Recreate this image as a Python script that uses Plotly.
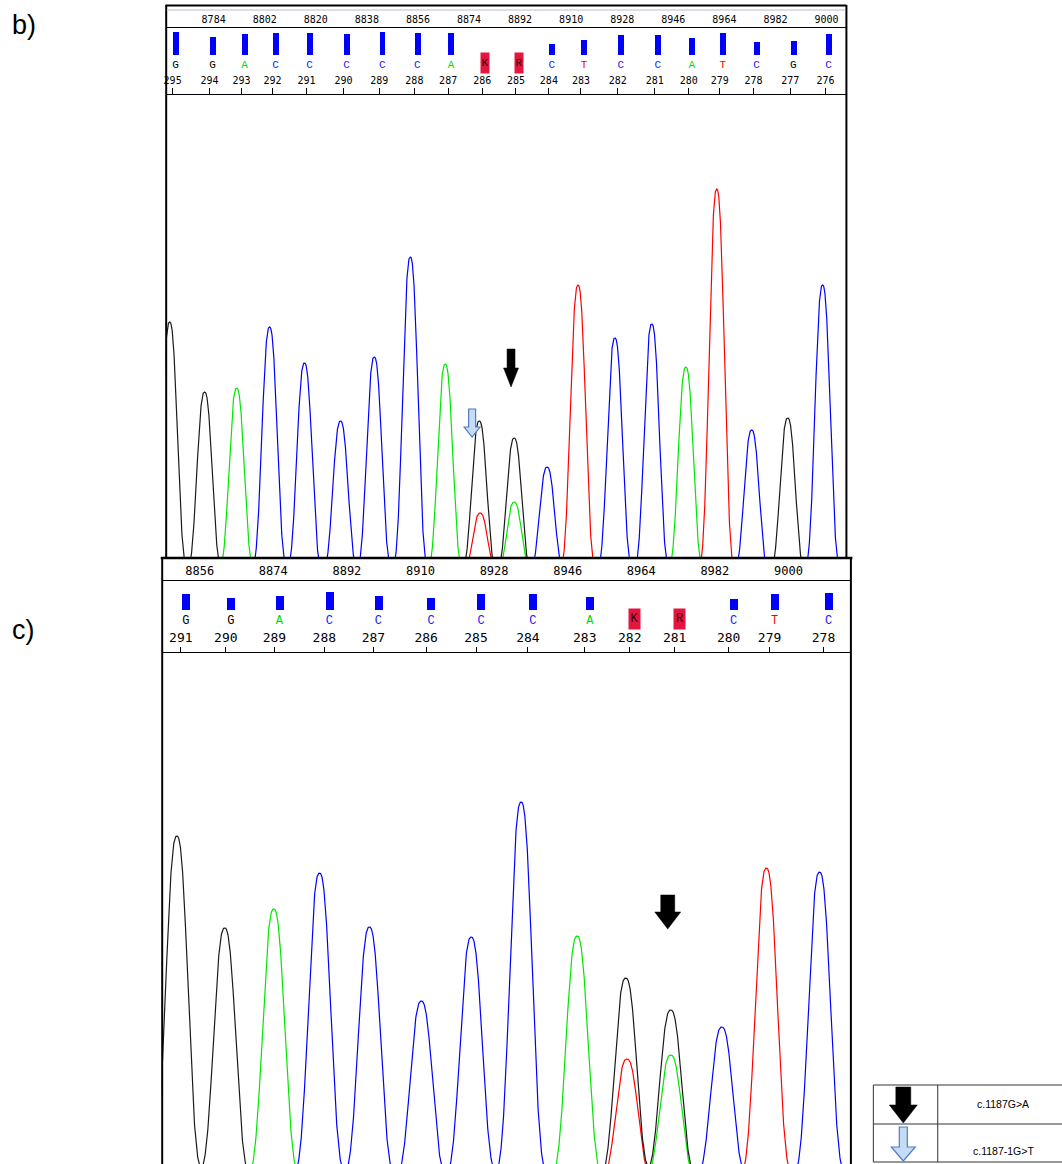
import numpy as np
import plotly.graph_objects as go

W, H = 1062, 1164

# ---------------- data: panel b ----------------
b_scale = [8784, 8802, 8820, 8838, 8856, 8874, 8892, 8910, 8928, 8946, 8964, 8982, 9000]
b_bases = list("GGACCCCCAKRCTCCATCGC")
b_nums = list(range(295, 275, -1))
b_call_pos = [8770.6, 8783.6, 8794.9, 8805.8, 8817.8, 8830.8, 8843.4, 8855.8, 8867.7, 8879.7,
              8891.6, 8903.2, 8914.5, 8927.5, 8940.5, 8952.5, 8963.4, 8975.3, 8988.3, 9000.7]
b_quality = [23, 18, 21, 22, 22, 21, 23, 22, 22, None, None, 11, 15, 20, 20, 17, 22, 13, 14, 21]
b_peak_pos = [8768.5, 8780.8, 8792.1, 8803.7, 8816.0, 8828.7, 8840.6, 8853.3, 8865.6, 8877.6, 8877.9,
              8889.9, 8889.9, 8901.5, 8912.4, 8925.4, 8938.4, 8950.4, 8961.3, 8973.6, 8986.3, 8998.6]
b_peak_base = list("GGACCCCCAGTGACTCCATCGC")
b_peak_h = [253, 183, 187, 248, 212, 154, 218, 318, 211, 154, 62, 137, 73, 108, 290, 237, 251, 208,
            386, 145, 157, 290]

# ---------------- data: panel c ----------------
c_scale = [8856, 8874, 8892, 8910, 8928, 8946, 8964, 8982, 9000]
c_bases = list("GGACCCCCAKRCTC")
c_nums = list(range(291, 277, -1))
c_call_pos = [8852.6, 8863.6, 8875.5, 8887.7, 8899.7, 8912.6, 8924.8, 8937.5, 8951.4, 8962.4,
              8973.4, 8986.6, 8996.6, 9009.8]
c_quality = [16, 12, 14, 18, 14, 12, 16, 16, 13, None, None, 11, 16, 17]
c_peak_pos = [8850.4, 8862.1, 8874.1, 8885.3, 8897.5, 8910.2, 8922.4, 8934.6, 8948.3, 8960.2, 8960.5,
              8971.2, 8971.2, 8983.7, 8994.6, 9007.6]
c_peak_base = list("GGACCCCCAGTGACTC")
c_peak_h = [344, 252, 271, 307, 253, 179, 243, 378, 244, 202, 121, 170, 125, 153, 312, 308]

legend_labels = ["c.1187G>A", "c.1187-1G>T"]

# ---------------- style ----------------
TRACE_COL = {"G": "#1a1a1a", "A": "#00e600", "C": "#0000ff", "T": "#ff0000"}
LET_COL = {"G": "#000000", "A": "#00dd00", "C": "#1a1aff", "T": "#ff0000"}
PEAK_S = 3.4
PEAK_P = 2.5

def px(x):
    return x / W

def py(y):
    return 1 - y / H

b_xr = [8767.1, 9007.0]
c_xr = [8846.7, 9015.4]

fig = go.Figure()

def add_traces(pos, bases, hts, xr, xa, ya):
    xs = np.arange(xr[0] - 6, xr[1] + 6, 0.05)
    for ch in ["C", "A", "T", "G"]:
        ys = np.zeros_like(xs)
        for p, b, h in zip(pos, bases, hts):
            if b == ch:
                ys += h * np.exp(-(np.abs(xs - p) / PEAK_S) ** PEAK_P)
        fig.add_trace(go.Scatter(x=xs, y=ys, mode="lines", xaxis=xa, yaxis=ya,
                                 line=dict(color=TRACE_COL[ch], width=1.2),
                                 hoverinfo="skip", showlegend=False))

def add_header(pos, bases, qual, xa, ya, bar_w, let_y, let_size, box_w, box_y):
    fig.add_trace(go.Bar(x=pos, y=qual, xaxis=xa, yaxis=ya, width=bar_w,
                         marker=dict(color="#0000ff", line=dict(width=0)),
                         hoverinfo="skip", showlegend=False))
    txt = [b if b in "ACGT" else "" for b in bases]
    fig.add_trace(go.Scatter(x=pos, y=[let_y] * len(pos), mode="text", text=txt,
                             xaxis=xa, yaxis=ya,
                             textfont=dict(family="Liberation Mono", size=let_size,
                                           color=[LET_COL.get(b, "#000") for b in bases]),
                             hoverinfo="skip", showlegend=False))
    for p, b in zip(pos, bases):
        if b not in "ACGT":
            fig.add_annotation(x=p, y=box_y, xref=xa, yref=ya, text=b, showarrow=False,
                               font=dict(family="Liberation Mono", size=let_size, color="#3a0008"),
                               bgcolor="#e3163f", width=box_w, height=20, borderpad=0)

add_traces(b_peak_pos, b_peak_base, b_peak_h, b_xr, "x", "y")
add_traces(c_peak_pos, c_peak_base, c_peak_h, c_xr, "x2", "y2")
add_header(b_call_pos, b_bases, b_quality, "x3", "y3", 2.1, -10, 11, 8, -7.5)
add_header(c_call_pos, c_bases, c_quality, "x4", "y4", 1.95, -11, 12, 11, -9)

b_off = 3 / 2.843
c_off = 5 / 4.096

num_font_b = dict(family="DejaVu Sans Mono", size=10, color="black")
num_font_c = dict(family="DejaVu Sans Mono", size=13, color="black")
scale_font_c = dict(family="DejaVu Sans Mono", size=12, color="black")

common = dict(showgrid=False, zeroline=False, side="top", showline=True, linecolor="black",
              linewidth=1, tickangle=0, fixedrange=True)

fig.update_layout(
    width=W, height=H, margin=dict(l=0, r=0, t=0, b=0),
    paper_bgcolor="white", plot_bgcolor="rgba(0,0,0,0)", showlegend=False, bargap=0,
    xaxis=dict(domain=[px(164), px(846)], range=b_xr, anchor="y",
               tickmode="array", tickvals=[p - b_off for p in b_call_pos],
               ticktext=[str(n) for n in b_nums], ticks="outside", ticklen=6,
               tickcolor="black", tickfont=num_font_b, **common),
    yaxis=dict(domain=[py(557), py(95)], range=[18, 480], visible=False, fixedrange=True),
    xaxis3=dict(domain=[px(164), px(846)], range=b_xr, anchor="y3",
                tickmode="array", tickvals=b_scale, ticktext=[str(v) for v in b_scale],
                ticks="", tickfont=num_font_b, **common),
    yaxis3=dict(domain=[py(95), py(28)], range=[-40, 27], visible=False, fixedrange=True),
    xaxis2=dict(domain=[px(160), px(851)], range=c_xr, anchor="y2",
                tickmode="array", tickvals=[p - c_off for p in c_call_pos],
                ticktext=[str(n) for n in c_nums], ticks="outside", ticklen=5,
                tickcolor="black", tickfont=num_font_c, **common),
    yaxis2=dict(domain=[0, py(653)], range=[16, 527], visible=False, fixedrange=True),
    xaxis4=dict(domain=[px(160), px(851)], range=c_xr, anchor="y4",
                tickmode="array", tickvals=c_scale, ticktext=[str(v) for v in c_scale],
                ticks="", tickfont=scale_font_c, **common),
    yaxis4=dict(domain=[py(653), py(581)], range=[-43, 29], visible=False, fixedrange=True),
)

shapes = []

def line(x0, y0, x1, y1, w=1, c="black"):
    shapes.append(dict(type="line", xref="paper", yref="paper", x0=px(x0), y0=py(y0),
                       x1=px(x1), y1=py(y1), line=dict(color=c, width=w)))

# panel b frame
line(164.5, 5, 164.5, 557, 2)
line(846, 5, 846, 557, 2)
line(164, 5.5, 846, 5.5, 2)
line(165, 10, 845, 10, 1, "#b8bcd8")
# panel c frame
line(159, 558, 852, 558, 2.5)
line(160.5, 558, 160.5, 1164, 2)
line(850.5, 558, 850.5, 1164, 2)
# legend table
line(873, 1085, 1062, 1085, 1, "#333")
line(873, 1124, 1062, 1124, 1, "#333")
line(873, 1162, 1062, 1162, 1, "#333")
line(873, 1085, 873, 1162, 1, "#333")
line(937.5, 1085, 937.5, 1162, 1, "#333")

def arrow(cx, top, sw, sb, hw, tip, fill, lc, lw):
    pts = [(cx - sw / 2, top), (cx + sw / 2, top), (cx + sw / 2, sb), (cx + hw / 2, sb),
           (cx, tip), (cx - hw / 2, sb), (cx - sw / 2, sb)]
    path = "M " + " L ".join(f"{px(a):.5f},{py(b):.5f}" for a, b in pts) + " Z"
    shapes.append(dict(type="path", xref="paper", yref="paper", path=path,
                       fillcolor=fill, line=dict(color=lc, width=lw)))

arrow(510, 349, 8, 368, 15, 387, "black", "black", 0.5)
arrow(471, 409, 7, 427, 16, 437, "#c6dbf5", "#4f7fbf", 1.2)
arrow(667, 895, 14, 912, 26, 929, "black", "black", 0.5)
arrow(903, 1087, 15, 1105, 28, 1123, "black", "black", 0.5)
arrow(903, 1127, 8, 1147, 24, 1161, "#c6dbf5", "#4f7fbf", 1.2)

fig.update_layout(shapes=shapes)

def label(x, y, text, size):
    fig.add_annotation(x=px(x), y=py(y), xref="paper", yref="paper", text=text, showarrow=False,
                       xanchor="center", yanchor="middle",
                       font=dict(family="Liberation Sans", size=size, color="black"))

label(22, 25, "b)", 27)
label(22, 630, "c)", 27)
label(1003, 1104, legend_labels[0], 10.5)
label(1003, 1151, legend_labels[1], 10.5)

fig.write_html("out.html")
